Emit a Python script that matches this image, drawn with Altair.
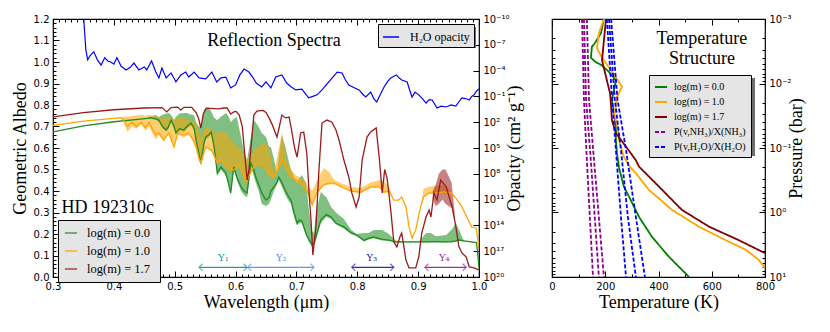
import altair as alt
import pandas as pd

SERIF = "Liberation Serif"
SANS = "DejaVu Sans"

# ---------------- left panel data: (wavelength um, line, band low, band high) ----------------
GREEN = [
(0.300,0.675,0.675,0.675),(0.350,0.703,0.703,0.703),(0.400,0.722,0.722,0.722),(0.440,0.733,0.733,0.733),
(0.455,0.738,0.737,0.742),(0.460,0.740,0.738,0.746),(0.469,0.735,0.730,0.753),(0.474,0.730,0.720,0.744),
(0.480,0.700,0.690,0.755),(0.486,0.684,0.678,0.760),(0.490,0.700,0.690,0.763),(0.494,0.730,0.720,0.755),
(0.499,0.700,0.690,0.730),(0.502,0.670,0.664,0.745),(0.508,0.690,0.680,0.760),(0.515,0.684,0.675,0.763),
(0.520,0.700,0.690,0.763),(0.527,0.716,0.705,0.755),(0.532,0.690,0.680,0.753),(0.535,0.637,0.630,0.720),
(0.540,0.570,0.560,0.698),(0.543,0.530,0.520,0.700),(0.548,0.620,0.610,0.777),(0.551,0.651,0.640,0.786),
(0.556,0.660,0.650,0.786),(0.560,0.674,0.665,0.770),(0.565,0.600,0.590,0.740),(0.570,0.484,0.470,0.730),
(0.576,0.512,0.500,0.745),(0.584,0.484,0.470,0.763),(0.588,0.440,0.430,0.750),(0.592,0.391,0.380,0.720),
(0.597,0.512,0.500,0.735),(0.602,0.465,0.450,0.744),(0.609,0.419,0.400,0.651),(0.614,0.400,0.380,0.580),
(0.619,0.391,0.370,0.544),(0.625,0.530,0.510,0.650),(0.630,0.500,0.470,0.730),(0.633,0.465,0.440,0.720),
(0.638,0.430,0.400,0.698),(0.643,0.391,0.340,0.670),(0.650,0.358,0.330,0.651),(0.655,0.370,0.340,0.605),
(0.658,0.400,0.360,0.605),(0.663,0.419,0.400,0.550),(0.668,0.440,0.430,0.484),(0.671,0.465,0.450,0.560),
(0.676,0.440,0.420,0.660),(0.682,0.400,0.380,0.605),(0.688,0.370,0.350,0.530),(0.691,0.358,0.340,0.500),
(0.696,0.300,0.280,0.465),(0.701,0.251,0.240,0.440),(0.705,0.265,0.250,0.460),(0.709,0.260,0.250,0.474),
(0.716,0.200,0.190,0.437),(0.721,0.172,0.160,0.300),(0.726,0.149,0.140,0.210),(0.729,0.160,0.150,0.205),
(0.732,0.186,0.170,0.300),(0.740,0.265,0.250,0.395),(0.749,0.290,0.280,0.372),(0.757,0.279,0.270,0.326),
(0.765,0.250,0.245,0.300),(0.778,0.233,0.225,0.270),(0.790,0.205,0.200,0.219),(0.799,0.195,0.190,0.200),
(0.811,0.170,0.165,0.205),(0.819,0.181,0.175,0.205),(0.827,0.186,0.180,0.219),(0.841,0.175,0.170,0.219),
(0.852,0.172,0.168,0.200),(0.863,0.163,0.160,0.170),(0.880,0.163,0.160,0.163),(0.901,0.163,0.160,0.163),
(0.913,0.163,0.160,0.205),(0.921,0.165,0.160,0.205),(0.929,0.165,0.160,0.190),(0.946,0.163,0.160,0.195),
(0.955,0.165,0.160,0.220),(0.962,0.168,0.165,0.251),(0.967,0.172,0.170,0.220),(0.975,0.168,0.165,0.170),
(0.988,0.163,0.160,0.163),(0.996,0.160,0.160,0.160),(1.000,0.047,0.047,0.047),
]

ORANGE = [
(0.300,0.705,0.705,0.705),(0.350,0.725,0.725,0.725),(0.400,0.738,0.738,0.738),(0.410,0.740,0.738,0.742),
(0.415,0.735,0.730,0.745),(0.422,0.700,0.675,0.745),(0.430,0.720,0.700,0.750),(0.437,0.700,0.690,0.752),
(0.445,0.720,0.710,0.755),(0.452,0.695,0.680,0.750),(0.458,0.720,0.700,0.755),(0.463,0.690,0.670,0.750),
(0.469,0.660,0.640,0.745),(0.474,0.670,0.660,0.740),(0.482,0.637,0.630,0.740),(0.490,0.670,0.665,0.744),
(0.499,0.605,0.600,0.730),(0.505,0.670,0.660,0.740),(0.515,0.660,0.650,0.744),(0.523,0.670,0.660,0.730),
(0.530,0.640,0.630,0.725),(0.535,0.605,0.600,0.721),(0.540,0.550,0.540,0.670),(0.543,0.530,0.520,0.651),
(0.548,0.580,0.570,0.690),(0.551,0.605,0.600,0.698),(0.561,0.590,0.580,0.684),(0.570,0.530,0.520,0.670),
(0.576,0.545,0.540,0.675),(0.586,0.512,0.500,0.670),(0.594,0.500,0.490,0.637),(0.597,0.498,0.490,0.620),
(0.606,0.520,0.510,0.605),(0.612,0.480,0.470,0.580),(0.617,0.437,0.430,0.544),(0.622,0.470,0.460,0.560),
(0.627,0.500,0.490,0.577),(0.635,0.530,0.520,0.605),(0.647,0.520,0.510,0.628),(0.655,0.480,0.470,0.600),
(0.663,0.465,0.460,0.484),(0.670,0.500,0.490,0.580),(0.676,0.544,0.540,0.670),(0.684,0.500,0.490,0.544),
(0.691,0.465,0.460,0.500),(0.700,0.450,0.440,0.470),(0.707,0.437,0.430,0.465),(0.717,0.405,0.400,0.430),
(0.726,0.335,0.330,0.400),(0.734,0.395,0.390,0.450),(0.745,0.430,0.425,0.507),(0.754,0.437,0.430,0.488),
(0.762,0.437,0.430,0.451),(0.778,0.414,0.410,0.430),(0.790,0.400,0.395,0.419),(0.806,0.395,0.390,0.414),
(0.822,0.419,0.415,0.440),(0.836,0.419,0.415,0.451),(0.844,0.395,0.390,0.445),(0.852,0.400,0.395,0.420),
(0.860,0.358,0.358,0.358),(0.868,0.358,0.358,0.358),(0.873,0.372,0.372,0.372),(0.880,0.326,0.326,0.326),
(0.885,0.233,0.233,0.233),(0.890,0.181,0.181,0.181),(0.896,0.219,0.219,0.219),(0.904,0.326,0.326,0.326),
(0.909,0.372,0.370,0.410),(0.918,0.391,0.390,0.420),(0.929,0.390,0.388,0.425),(0.939,0.395,0.390,0.428),
(0.947,0.395,0.390,0.420),(0.954,0.393,0.390,0.400),(0.962,0.367,0.367,0.367),(0.972,0.326,0.326,0.326),
(0.980,0.279,0.279,0.279),(0.988,0.233,0.233,0.233),(0.995,0.228,0.228,0.228),(1.000,0.140,0.140,0.140),
]

RED = [
(0.300,0.745),(0.350,0.765),(0.400,0.778),(0.450,0.786),(0.479,0.788),(0.487,0.768),(0.494,0.788),(0.505,0.790),
(0.510,0.776),(0.515,0.789),(0.528,0.789),(0.535,0.765),(0.539,0.740),(0.543,0.693),(0.547,0.760),(0.552,0.785),
(0.573,0.782),(0.580,0.786),(0.586,0.786),(0.592,0.758),(0.597,0.768),(0.601,0.770),(0.606,0.753),(0.611,0.700),
(0.614,0.605),(0.619,0.451),(0.622,0.500),(0.625,0.590),(0.630,0.753),(0.635,0.772),(0.645,0.775),(0.650,0.765),
(0.655,0.740),(0.660,0.710),(0.664,0.680),(0.668,0.651),(0.672,0.700),(0.676,0.753),(0.682,0.740),(0.688,0.744),
(0.692,0.684),(0.697,0.600),(0.701,0.558),(0.707,0.670),(0.712,0.674),(0.717,0.577),(0.721,0.380),(0.724,0.265),
(0.727,0.102),(0.732,0.233),(0.737,0.498),(0.742,0.716),(0.750,0.730),(0.758,0.721),(0.765,0.684),(0.770,0.637),
(0.778,0.544),(0.786,0.465),(0.791,0.391),(0.798,0.326),(0.803,0.372),(0.808,0.544),(0.816,0.651),(0.822,0.675),
(0.831,0.693),(0.836,0.558),(0.841,0.391),(0.845,0.500),(0.849,0.460),(0.855,0.312),(0.860,0.163),(0.865,0.140),
(0.870,0.186),(0.873,0.205),(0.880,0.079),(0.885,0.042),(0.896,0.042),(0.901,0.093),(0.906,0.205),(0.913,0.279),
(0.918,0.312),(0.921,0.279),(0.926,0.391),(0.931,0.358),(0.937,0.450),(0.946,0.420),(0.951,0.372),(0.956,0.326),
(0.962,0.233),(0.967,0.140),(0.972,0.112),(0.979,0.093),(0.984,0.047),(0.992,0.042),(1.000,0.033),
]

RED_BAND = [(0.924,0.36,0.40),(0.929,0.33,0.43),(0.934,0.34,0.48),(0.940,0.36,0.50),
            (0.945,0.34,0.50),(0.950,0.33,0.47),(0.955,0.32,0.44),(0.960,0.26,0.30)]

# H2O opacity: (wavelength um, log10 opacity in cm^2/g)
H2O = [
(0.350,-10.5),(0.354,-6.4),(0.357,-5.25),(0.361,-5.75),(0.367,-6.18),(0.373,-5.25),(0.379,-4.65),(0.385,-5.5),
(0.390,-5.12),(0.395,-5.0),(0.400,-4.75),(0.405,-5.5),(0.412,-4.5),(0.420,-4.08),(0.427,-4.38),(0.433,-4.88),
(0.441,-4.08),(0.450,-4.43),(0.454,-4.08),(0.462,-5.12),(0.469,-3.83),(0.474,-3.15),(0.479,-4.3),(0.486,-3.15),
(0.494,-3.73),(0.502,-2.68),(0.510,-3.5),(0.518,-3.83),(0.523,-3.25),(0.532,-3.83),(0.540,-3.15),(0.551,-3.03),
(0.561,-3.83),(0.569,-2.68),(0.576,-3.15),(0.584,-3.25),(0.592,-1.98),(0.600,-2.33),(0.607,-3.5),(0.614,-4.18),
(0.622,-3.83),(0.628,-3.25),(0.634,-2.55),(0.643,-2.1),(0.650,-2.68),(0.658,-1.98),(0.666,-3.25),(0.676,-3.5),
(0.684,-2.55),(0.691,-2.13),(0.699,-1.75),(0.709,-1.85),(0.720,-0.83),(0.727,-1.0),(0.734,-1.18),(0.742,-1.75),
(0.749,-2.33),(0.757,-3.0),(0.767,-3.83),(0.775,-3.73),(0.780,-3.0),(0.786,-2.33),(0.795,-2.0),(0.803,-1.75),
(0.809,-1.25),(0.814,-0.93),(0.822,-1.5),(0.827,-0.75),(0.832,-0.35),(0.838,-1.25),(0.844,-2.1),(0.850,-2.75),
(0.855,-3.15),(0.864,-3.5),(0.869,-3.13),(0.873,-2.9),(0.882,-2.68),(0.886,-1.75),(0.890,-0.93),(0.895,-1.5),
(0.901,-1.18),(0.907,-0.75),(0.913,-0.23),(0.918,-0.63),(0.923,-0.58),(0.931,0.35),(0.938,0.13),(0.946,0.23),
(0.954,0.0),(0.962,0.13),(0.967,-0.38),(0.972,-0.83),(0.978,-0.75),(0.984,-0.58),(0.988,-1.0),(0.992,-1.18),
(0.996,-1.63),(1.000,-1.85),
]

SERIES = ["log(m) =  0.0", "log(m) =  1.0", "log(m) =  1.7"]
LINE_COLORS = ["#228b22", "#ffa500", "#9a1b1b"]

# band arrows (upsilon regions)
ARROW_LO = [0.540, 0.620, 0.791, 0.911]
ARROW_HI = [0.619, 0.729, 0.860, 0.979]
ARROW_Y = [0.045, 0.045, 0.045, 0.045]
ARROW_LABEL = ["Υ₁", "Υ₂", "Υ₃", "Υ₄"]
ARROW_LABEL_X = [0.580, 0.675, 0.824, 0.943]
ARROW_LABEL_Y = [0.088, 0.088, 0.088, 0.088]
ARROW_COLOR = ["#2a9d94", "#6a8ff0", "#2e2eb0", "#a32ea3"]

# ---------------- right panel data: (temperature K, log10 pressure bar) ----------------
TP_GREEN = [(195,-3.0),(184,-2.78),(160,-2.62),(150,-2.57),(146,-2.40),(165,-2.33),(184,-2.29),(214,-2.18),
            (240,-2.05),(233,-1.9),(225,-1.74),(233,-1.54),(240,-1.33),(240,-1.12),(244,-0.92),(252,-0.69),
            (270,-0.40),(296,-0.19),(327,0.07),(376,0.38),(440,0.69),(515,1.0)]
TP_ORANGE = [(195,-3.0),(176,-2.78),(169,-2.55),(188,-2.40),(221,-2.21),(263,-1.95),(244,-1.79),(240,-1.64),
             (233,-1.50),(244,-1.39),(252,-1.12),(270,-0.86),(296,-0.69),(315,-0.61),(364,-0.35),(451,-0.04),
             (552,0.22),(653,0.43),(729,0.58),(778,0.74),(800,0.86)]
TP_RED = [(203,-3.0),(195,-2.67),(188,-2.36),(195,-2.24),(206,-2.05),(218,-1.85),(221,-1.70),(225,-1.43),
          (240,-1.23),(278,-1.02),(315,-0.81),(327,-0.71),(402,-0.40),(488,-0.04),(590,0.22),(702,0.43),(800,0.63)]
NH3_CURVES = [
    [(113,-3.0),(120,-1.75),(131,-0.8),(154,1.0)],
    [(120,-3.0),(128,-1.75),(146,-0.8),(176,1.0)],
    [(131,-3.0),(139,-1.75),(158,-0.8),(195,1.0)],
]
H2O_CURVES = [
    [(206,-3.0),(226,-1.75),(240,-0.97),(259,0.07),(278,1.0)],
    [(214,-3.0),(236,-1.75),(259,-0.97),(285,0.07),(315,1.0)],
    [(222,-3.0),(246,-1.75),(278,-0.97),(315,0.07),(349,1.0)],
]
TSERIES = ["log(m) = 0.0", "log(m) = 1.0", "log(m) = 1.7", "P(v,NH₃)/X(NH₃)", "P(v,H₂O)/X(H₂O)"]
TCOLORS = ["#008000", "#ffa500", "#800000", "#8b008b", "#0000ff"]
TDASH = [[1, 0], [1, 0], [1, 0], [4, 2], [4, 2]]

# ---------------- build tables ----------------
def band_df(rows):
    return pd.DataFrame(rows, columns=["lam", "alb", "lo", "hi"])

g_df = band_df(GREEN)
o_df = band_df(ORANGE)
r_df = pd.DataFrame(RED, columns=["lam", "alb"])
rb_df = pd.DataFrame(RED_BAND, columns=["lam", "lo", "hi"])
g_df["series"] = SERIES[0]
o_df["series"] = SERIES[1]
r_df["series"] = SERIES[2]
lines_df = pd.concat([g_df[["lam", "alb", "series"]], o_df[["lam", "alb", "series"]], r_df], ignore_index=True)

h2o_df = pd.DataFrame(H2O, columns=["lam", "logk"])
h2o_df["kappa"] = 10.0 ** h2o_df["logk"]
h2o_df["name"] = "H₂O opacity"

arrows_df = pd.DataFrame({"lo": ARROW_LO, "hi": ARROW_HI, "alb": ARROW_Y, "lab": ARROW_LABEL,
                          "labx": ARROW_LABEL_X, "laby": ARROW_LABEL_Y, "col": ARROW_COLOR})

tp_rows = []
for name, curve in [(TSERIES[0], TP_GREEN), (TSERIES[1], TP_ORANGE), (TSERIES[2], TP_RED)]:
    for i, (t, lp) in enumerate(curve):
        tp_rows.append({"T": t, "P": 10.0 ** lp, "series": name, "lid": name, "idx": i})
for name, curves in [(TSERIES[3], NH3_CURVES), (TSERIES[4], H2O_CURVES)]:
    for k, curve in enumerate(curves):
        for i, (t, lp) in enumerate(curve):
            tp_rows.append({"T": t, "P": 10.0 ** lp, "series": name, "lid": f"{name}{k}", "idx": i})
tp_df = pd.DataFrame(tp_rows)

# ---------------- scales & axes ----------------
W1, H1 = 426, 258
W2, H2 = 213, 258
xs = alt.Scale(domain=[0.3, 1.0], nice=False, zero=False)
ys = alt.Scale(domain=[0.0, 1.2], nice=False, zero=False)
ks = alt.Scale(type="log", domain=[1e-10, 1e20], reverse=True, nice=False)
ts = alt.Scale(domain=[0, 800], nice=False, zero=False)
ps = alt.Scale(type="log", domain=[1e-3, 10], reverse=True, nice=False)

x_major = [round(0.3 + 0.1 * i, 2) for i in range(8)]
x_minor = [round(0.3 + 0.01 * i, 2) for i in range(71) if i % 10]
y_major = [round(0.1 * i, 1) for i in range(13)]
y_minor = [round(0.02 * i, 2) for i in range(61) if i % 5]
k_major = [10.0 ** e for e in range(-10, 21, 3)]
t_major = [0, 200, 400, 600, 800]
t_minor = [100, 300, 500, 700]
p_major = [1e-3, 1e-2, 1e-1, 1.0, 10.0]
p_minor = [m * 10.0 ** e for e in range(-3, 1) for m in range(2, 10)]


def ax(orient, values, size, labels=False, title=None, **kw):
    d = dict(orient=orient, values=values, tickSize=size, offset=-size, domain=False, grid=False,
             labels=labels, ticks=True, labelFlush=False, labelOverlap=False, tickColor="black",
             tickWidth=1, labelPadding=4, title=title, labelFont=SANS, labelFontSize=10,
             labelColor="black", titleFont=SERIF, titleFontSize=18, titleFontWeight="normal",
             titleColor="black")
    d.update(kw)
    return alt.Axis(**d)


carrier_l = pd.DataFrame({"lam": [0.65], "alb": [0.6]})


def lcarrier(xax, yax):
    return alt.Chart(carrier_l).mark_point(opacity=0).encode(
        x=alt.X("lam:Q", scale=xs, axis=xax), y=alt.Y("alb:Q", scale=ys, axis=yax))


lc1 = lcarrier(ax("bottom", x_major, 6, labels=True, title="Wavelength (μm)", format=".1f", titlePadding=2),
               ax("left", y_major, 6, labels=True, title="Geometric Albedo", format=".1f", titlePadding=4))
lc2 = lcarrier(ax("bottom", x_minor, 3), ax("left", y_minor, 3))
lc3 = lcarrier(ax("top", x_major, 6), None)
lc4 = lcarrier(ax("top", x_minor, 3), None)

X_NOAX = alt.X("lam:Q", scale=xs, axis=None)

g_area = alt.Chart(g_df).mark_area(color="#008000", opacity=0.5, clip=True).encode(
    x=X_NOAX, y=alt.Y("lo:Q", scale=ys, axis=None), y2="hi:Q")
o_area = alt.Chart(o_df).mark_area(color="#ffa500", opacity=0.55, clip=True).encode(
    x=X_NOAX, y=alt.Y("lo:Q", scale=ys, axis=None), y2="hi:Q")
r_area = alt.Chart(rb_df).mark_area(color="#9a1b1b", opacity=0.55, clip=True).encode(
    x=X_NOAX, y=alt.Y("lo:Q", scale=ys, axis=None), y2="hi:Q")


# legend drop shadows (decorative boxes in pixel offsets of the panel)
def shadow(src, x0, y0, w, h):
    return alt.Chart(src).mark_rect(color="#6e6e6e").encode(
        x=alt.value(x0 + 3), x2=alt.value(x0 + 3 + w), y=alt.value(y0 + 3), y2=alt.value(y0 + 3 + h))


leg_left = alt.Legend(orient="none", legendX=5, legendY=201, title=None, fillColor="#e5e5e5",
                      strokeColor="black", padding=6, symbolType="stroke", symbolSize=150,
                      symbolStrokeWidth=1.6, symbolOpacity=0.75, labelFont=SERIF, labelFontSize=12.5,
                      labelOffset=9, rowPadding=4, labelColor="black")
spec_lines = alt.Chart(lines_df).mark_line(strokeWidth=1.3, clip=True).encode(
    x=X_NOAX, y=alt.Y("alb:Q", scale=ys, axis=None),
    color=alt.Color("series:N", scale=alt.Scale(domain=SERIES, range=LINE_COLORS), legend=leg_left))

txt_left = pd.DataFrame({"lam": [0.663], "alb": [1.10], "txt": ["Reflection Spectra"]})
hd_left = pd.DataFrame({"lam": [0.314], "alb": [0.322], "txt": ["HD 192310c"]})
t1 = alt.Chart(txt_left).mark_text(font=SERIF, fontSize=18, color="black", baseline="middle").encode(
    x=X_NOAX, y=alt.Y("alb:Q", scale=ys, axis=None), text="txt:N")
t2 = alt.Chart(hd_left).mark_text(font=SERIF, fontSize=18, color="black", baseline="middle", align="left").encode(
    x=X_NOAX, y=alt.Y("alb:Q", scale=ys, axis=None), text="txt:N")

inner_left = alt.layer(lc1, lc2, lc3, lc4, g_area, o_area, r_area, spec_lines, t1, t2,
                       shadow(carrier_l, 5, 201, 100, 56), shadow(carrier_l, 325, 5, 95, 21)).resolve_axis(
    x="independent", y="independent")

leg_h2o = alt.Legend(orient="none", legendX=325, legendY=5, title=None, fillColor="#e5e5e5",
                     strokeColor="black", padding=4, symbolType="stroke", symbolSize=256,
                     symbolStrokeWidth=1.5, labelFont=SERIF, labelFontSize=12, labelOffset=10,
                     labelColor="black")
k_labels = ("['10⁻¹⁰','10⁻⁷','10⁻⁴','10⁻¹','10²','10⁵','10⁸','10¹¹','10¹⁴','10¹⁷','10²⁰']"
            "[round((log(datum.value)/LN10+10)/3)]")
blue = alt.Chart(h2o_df).mark_line(strokeWidth=1.2, clip=True).encode(
    x=X_NOAX,
    y=alt.Y("kappa:Q", scale=ks, axis=ax("right", k_major, 6, labels=True, title="Opacity (cm² g⁻¹)",
                                          labelExpr=k_labels, titleAngle=270, titlePadding=14)),
    color=alt.Color("name:N", scale=alt.Scale(domain=["H₂O opacity"], range=["#0000ff"]), legend=leg_h2o))

ID_COLOR = alt.Color("col:N", scale=None, legend=None)
arr_rule = alt.Chart(arrows_df).mark_rule(strokeWidth=1.2).encode(
    x=alt.X("lo:Q", scale=xs, axis=None), x2="hi:Q", y=alt.Y("alb:Q", scale=ys, axis=None),
    color=ID_COLOR)
arr_l = alt.Chart(arrows_df).mark_point(shape="M1,-1L0,0L1,1", filled=False, size=50, strokeWidth=1.2).encode(
    x=alt.X("lo:Q", scale=xs, axis=None), y=alt.Y("alb:Q", scale=ys, axis=None), color=ID_COLOR)
arr_r = alt.Chart(arrows_df).mark_point(shape="M-1,-1L0,0L-1,1", filled=False, size=50, strokeWidth=1.2).encode(
    x=alt.X("hi:Q", scale=xs, axis=None), y=alt.Y("alb:Q", scale=ys, axis=None), color=ID_COLOR)
arr_t = alt.Chart(arrows_df).mark_text(font="DejaVu Serif", fontSize=10, baseline="middle").encode(
    x=alt.X("labx:Q", scale=xs, axis=None), y=alt.Y("laby:Q", scale=ys, axis=None), text="lab:N",
    color=ID_COLOR)
arrows = alt.layer(arr_rule, arr_l, arr_r, arr_t)

left = alt.layer(inner_left, blue, arrows).resolve_scale(y="independent", color="independent").resolve_axis(
    x="independent", y="independent").properties(width=W1, height=H1)

# ---------------- right panel ----------------
carrier_r = pd.DataFrame({"T": [400.0], "P": [0.1]})


def rcarrier(xax, yax):
    return alt.Chart(carrier_r).mark_point(opacity=0).encode(
        x=alt.X("T:Q", scale=ts, axis=xax), y=alt.Y("P:Q", scale=ps, axis=yax))


p_labels = "['10⁻³','10⁻²','10⁻¹','10⁰','10¹'][round(log(datum.value)/LN10)+3]"
rc1 = rcarrier(ax("bottom", t_major, 6, labels=True, title="Temperature (K)", format="d", titlePadding=2),
               ax("right", p_major, 6, labels=True, title="Pressure (bar)", labelExpr=p_labels,
                  titleAngle=270, titlePadding=14))
rc2 = rcarrier(ax("bottom", t_minor, 3), ax("right", p_minor, 3))
rc3 = rcarrier(ax("top", t_major, 6), ax("left", p_major, 6))
rc4 = rcarrier(ax("top", t_minor, 3), ax("left", p_minor, 3))

leg_right = alt.Legend(orient="none", legendX=97, legendY=56, title=None, fillColor="#e5e5e5",
                       strokeColor="black", padding=5, symbolType="stroke", symbolSize=144,
                       symbolStrokeWidth=1.8, labelFont=SERIF, labelFontSize=10, labelOffset=6,
                       rowPadding=3, labelColor="black")
tp_lines = alt.Chart(tp_df).mark_line(strokeWidth=1.8, clip=True).encode(
    x=alt.X("T:Q", scale=ts, axis=None), y=alt.Y("P:Q", scale=ps, axis=None),
    color=alt.Color("series:N", scale=alt.Scale(domain=TSERIES, range=TCOLORS), legend=leg_right),
    strokeDash=alt.StrokeDash("series:N", scale=alt.Scale(domain=TSERIES, range=TDASH), legend=leg_right),
    detail="lid:N", order="idx:Q")

ts_txt = pd.DataFrame({"T": [563, 563], "P": [10 ** -2.69, 10 ** -2.38], "txt": ["Temperature", "Structure"]})
t3 = alt.Chart(ts_txt).mark_text(font=SERIF, fontSize=18, color="black", baseline="middle").encode(
    x=alt.X("T:Q", scale=ts, axis=None), y=alt.Y("P:Q", scale=ps, axis=None), text="txt:N")

right = alt.layer(rc1, rc2, rc3, rc4, shadow(carrier_r, 97, 56, 103, 78), tp_lines, t3).resolve_axis(
    x="independent", y="independent").properties(width=W2, height=H2)

chart = alt.hconcat(left, right, spacing=24).resolve_scale(
    color="independent", strokeDash="independent"
).properties(
    padding={"left": 2, "top": 5, "right": 5, "bottom": 5}
).configure_view(stroke="black", strokeWidth=1.2).configure_legend(labelLimit=200)

chart.save("out.html", embed_options={"renderer": "svg", "actions": False})
